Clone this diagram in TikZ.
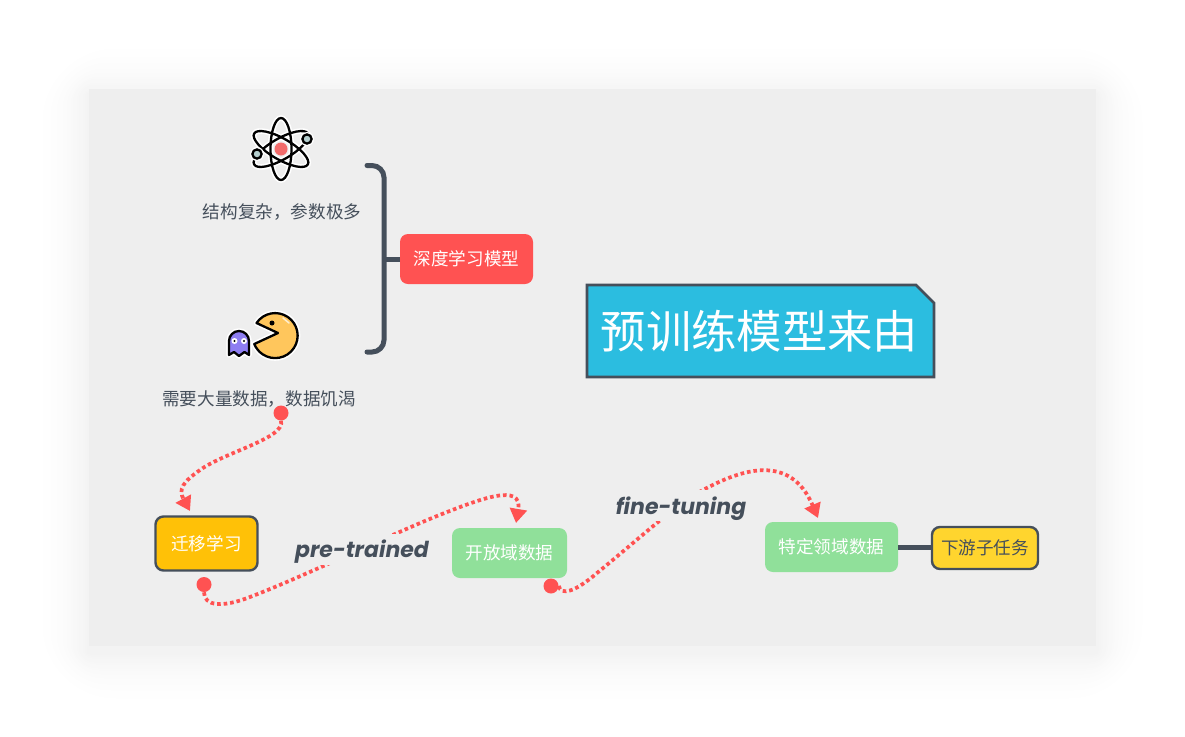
\documentclass[tikz,border=0pt]{standalone}
\usepackage{fontspec}
\usepackage{xcolor}
\usetikzlibrary{arrows.meta}
\setmainfont{Noto Sans CJK SC}
\newfontfamily\labelfont{Poppins}
\definecolor{Panel}{HTML}{EEEEEE}
\definecolor{Slate}{HTML}{454F5B}
\definecolor{Coral}{HTML}{FF5252}
\definecolor{Mint}{HTML}{90E09A}
\definecolor{Amber}{HTML}{FFC107}
\definecolor{Lemon}{HTML}{FFD52E}
\definecolor{Sky}{HTML}{2BBDE0}
\definecolor{Pac}{HTML}{FFC65C}
\definecolor{Ghost}{HTML}{8E7EF2}
\definecolor{Electron}{HTML}{B5CFCF}
\definecolor{Nucleus}{HTML}{F26B6B}
\def\px{0.75pt}
\tikzset{
  body/.style={font=\fontsize{13.2}{16}\selectfont},
  caption/.style={body,text=Slate,inner sep=0pt},
  tagbox/.style={body,rounded corners=8*\px,minimum height=50*\px,inner sep=0pt,outer sep=0pt,text=white},
  edgebox/.style={tagbox,draw=Slate,line width=2.4*\px},
  startdot/.style={circle,fill=Coral,minimum size=15*\px,inner sep=0pt},
  hop/.style={draw=Coral,line width=2.8pt,dash pattern=on 2.7pt off 2.2pt,-{Triangle[length=10.6pt,width=12.6pt]}},
  hoplabel/.style={font=\fontsize{16.5}{20}\labelfont\bfseries\itshape,text=Slate,fill=Panel,inner sep=0pt,minimum height=31*\px,text height=13.2pt,text depth=0pt},
  stem/.style={draw=Slate,line width=5*\px},
  halo/.style={draw=white,line width=5.5*\px},
  ink/.style={draw=black,line width=2.3*\px}
}
\begin{document}
\begin{tikzpicture}[x=0.75pt,y=-0.75pt]
  \useasboundingbox (0,0) rectangle (1185,736);
  \fill[white] (0,0) rectangle (1185,736);
  \foreach \r in {56,54,...,2}{
    \pgfmathsetmacro{\shade}{5*(1-\r/58)*(1-\r/58)}
    \fill[black!\shade!white,rounded corners=1.6*\r*\px] (89-\r,89+6-\r) rectangle (1096+\r,646+6+\r);
  }
  \fill[Panel] (89,89) rectangle (1096,646);

  \foreach \a in {90,30,-30}{
    \draw[halo] (281,149) ellipse[x radius=31,y radius=10.5,rotate=\a];
  }
  \foreach \a in {90,30,-30}{
    \draw[ink] (281,149) ellipse[x radius=31,y radius=10.5,rotate=\a];
  }
  \fill[Nucleus] (281,149) circle[radius=6.5];
  \fill[white] (307,139) circle[radius=7];
  \fill[white] (257,154) circle[radius=7];
  \draw[ink,fill=Electron] (307,139) circle[radius=4.6];
  \draw[ink,fill=Electron] (257,154) circle[radius=4.6];
  \node[caption] (cplx) at (282,212) {结构复杂，参数极多};

  \draw[halo,line join=round] (278,333) -- (256.5,323) arc[start angle=-146,end angle=158,radius=22.5] -- cycle;
  \draw[ink,fill=Pac,line join=round] (278,333) -- (256.5,323) arc[start angle=-146,end angle=158,radius=22.5] -- cycle;
  \fill (272,323) circle[radius=2.5];
  \draw[white!70!Pac,line width=1.5*\px,line cap=round] (283,318) -- (289,323);
  \draw[halo,line join=round] (229,355) -- (229,341) arc[start angle=180,end angle=360,radius=10] -- (249,355) -- (244.5,352) -- (239,356) -- (234,352) -- cycle;
  \draw[ink,fill=Ghost,line join=round] (229,355) -- (229,341) arc[start angle=180,end angle=360,radius=10] -- (249,355) -- (244.5,352) -- (239,356) -- (234,352) -- cycle;
  \fill[white] (234.5,341) circle[radius=3] (244,341) circle[radius=3];
  \fill[black] (234.5,341) circle[radius=1.2] (244,341) circle[radius=1.2];
  \node[caption] (hungry) at (259,399) {需要大量数据，数据饥渴};

  \node[tagbox,fill=Coral,minimum width=133*\px] (model) at (466.5,259) {深度学习模型};
  \coordinate (brace) at (384,259);
  \draw[stem,line cap=round,rounded corners=12*\px] (367,165.5) -- (384,165.5) -- (384,352) -- (367,352);
  \draw[stem] (model.west) -- (brace);

  \draw[draw=Slate,fill=Sky,line width=2.6*\px] (587,285) -- (916,285) -- (934,303) -- (934,377) -- (587,377) -- cycle;
  \node[text=white,font=\fontsize{34}{40}\selectfont,inner sep=0pt] (title) at (759.5,331) {预训练模型来由};

  \node[edgebox,fill=Amber,minimum width=102*\px,minimum height=54*\px] (transfer) at (206.5,543.5) {迁移学习};
  \node[tagbox,fill=Mint,minimum width=115*\px] (open) at (509.5,553) {开放域数据};
  \node[tagbox,fill=Mint,minimum width=133*\px] (domain) at (831.5,547) {特定领域数据};
  \node[edgebox,fill=Lemon,text=Slate,minimum width=106*\px,minimum height=42*\px] (task) at (985,548) {下游子任务};
  \draw[stem] (domain.east) -- (domain.east -| task.west);

  \node[startdot] (dotA) at (281,413) {};
  \node[startdot] (dotB) at (204,584.5) {};
  \node[startdot] (dotC) at (551,586) {};
  \coordinate (inA) at (190,511);
  \coordinate (inB) at (516,523);
  \coordinate (inC) at (818,518);

  \draw[hop] (dotA.south) .. controls (286,438) and (225,452) .. (200,470) .. controls (183,482) and (178,489) .. (inA);
  \draw[hop] (dotB.south) .. controls (204,606) and (222,608) .. (250,597) .. controls (300,578) and (390,535) .. (437,516) .. controls (480,499) and (523,482) .. (inB);
  \draw[hop] (dotC.east) .. controls (561,596) and (575,592) .. (597,573) .. controls (640,538) and (675,505) .. (703,490) .. controls (740,470) and (790,452) .. (inC);

  \node[hoplabel] (pretrain) at (362,549) {pre-trained};
  \node[hoplabel] (finetune) at (681,505.5) {fine-tuning};
\end{tikzpicture}
\end{document}
